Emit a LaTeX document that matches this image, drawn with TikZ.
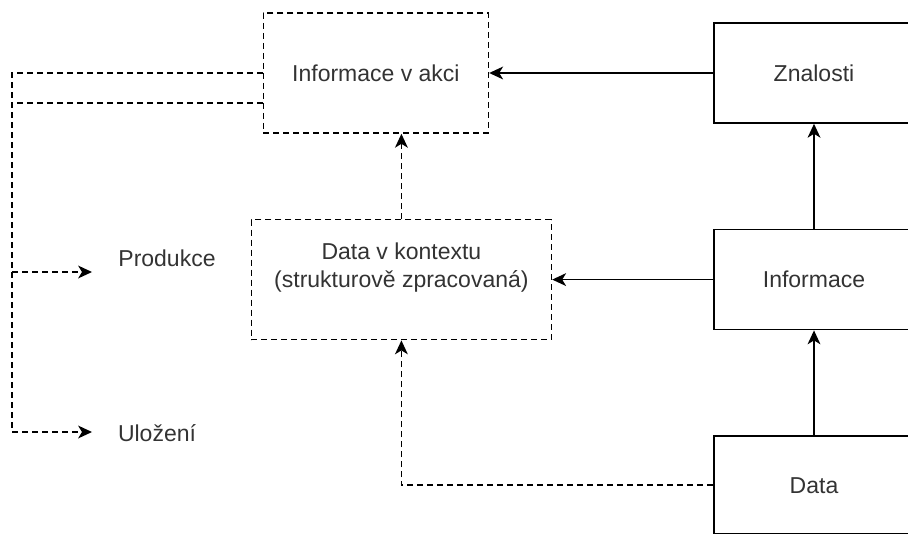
\documentclass[tikz,border=0pt]{standalone}
\usepackage{fontspec}
\setmainfont{Liberation Sans}
\usepackage{tikz}
\usetikzlibrary{positioning,arrows.meta}
\usepackage{xcolor}
\definecolor{labelgray}{HTML}{333333}

\begin{document}
\begin{tikzpicture}[x=0.5pt,y=-0.5pt,
  every node/.style={font=\fontsize{11.5}{14}\selectfont,text=labelgray},
  >={Stealth[length=7pt,width=6.5pt,inset=2pt,line width=0pt]}, line width=0.8pt,
  dashline/.style={dash pattern=on 3pt off 2pt},
  solidbox/.style={draw,minimum width=100pt,minimum height=50pt,inner sep=0pt},
  dashbox/.style={draw,dashline,minimum height=60pt,inner sep=0pt}]
 \useasboundingbox (0,0) rectangle (908,534);
 \node[solidbox] (znal) at (814,73) {Znalosti};
 \node[solidbox,below=52.5pt of znal] (info) {Informace};
 \node[solidbox,minimum height=49pt,below=52.5pt of info] (data) {Data};
 \node[dashbox,minimum width=112.5pt,left=112pt of znal] (akci) {Informace v akci};
 \node[dashbox,minimum width=150pt,left=80.5pt of info,align=center] (kontext) {Data v kontextu\\(strukturově zpracovaná)\\\mbox{}};
 \node (prod) at (167,258) {Produkce};
 \node (uloz) at (157,433) {Uložení};
 \coordinate (prodIn) at (92,272);
 \coordinate (ulozIn) at (92,432);
 % plne sipky
 \draw[->] (data.north) -- (info.south);
 \draw[->] (info.north) -- (znal.south);
 \draw[->] (znal.west) -- (akci.east);
 \draw[->] (info.west) -- (info.west -| kontext.east);
 % carkovane sipky
 \draw[->,dashline] (data.west) -| (kontext.south);
 \draw[->,dashline] (kontext.north) -- (kontext.north |- akci.south);
 \draw[->,dashline] (akci.west) -| ([xshift=-40pt]ulozIn) -- (ulozIn);
 \draw[->,dashline] ([yshift=-15pt]akci.west) -| ([xshift=-40pt]prodIn) -- (prodIn);
\end{tikzpicture}
\end{document}
